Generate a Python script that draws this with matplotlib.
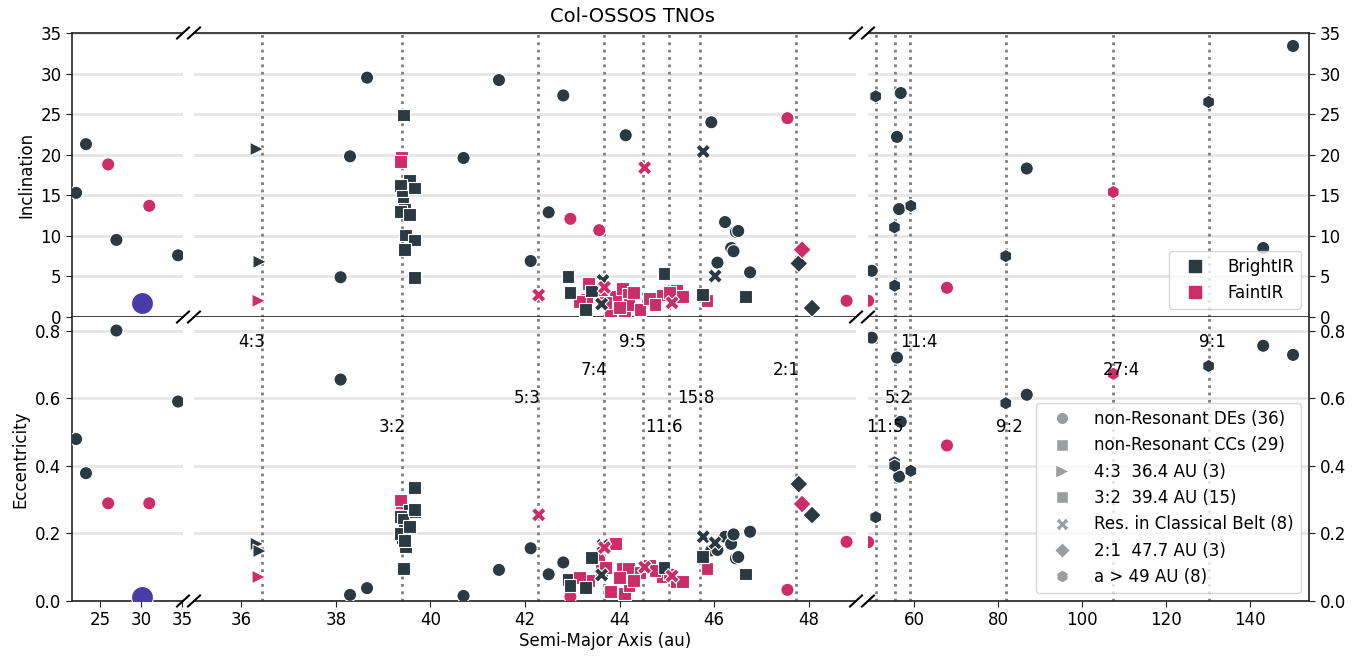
import matplotlib
matplotlib.use("Agg")
import matplotlib.pyplot as plt
from matplotlib.lines import Line2D

# ---------------- colours ----------------
BRIGHT = "#2b3a42"
FAINT = "#cc2d69"
NEPTUNE = "#4a3ca6"
LEG_GRAY = "#9b9da1"
IR_COL = {"B": BRIGHT, "F": FAINT}

# ---------------- data ----------------
# non-resonant DEs (circles)
de_a = [22.1, 23.3, 26.0, 27.0, 31.0, 34.5,
        38.1, 38.3, 38.66, 40.7, 41.45, 42.12, 42.5, 42.81, 42.96, 43.57,
        44.13, 45.94, 46.07, 46.23, 46.36, 46.41, 46.46, 46.51, 46.76, 47.55, 48.8,
        49.05, 49.9, 55.9, 56.4, 56.8, 67.8, 86.8, 143.1, 150.2]
de_i = [15.3, 21.3, 18.8, 9.5, 13.7, 7.6,
        4.9, 19.8, 29.5, 19.6, 29.2, 6.9, 12.9, 27.3, 12.1, 10.7,
        22.4, 24.0, 6.7, 11.7, 8.5, 8.1, 10.5, 10.6, 5.5, 24.5, 2.0,
        2.0, 5.7, 22.2, 13.3, 27.6, 3.6, 18.3, 8.5, 33.4]
de_e = [0.479, 0.378, 0.289, 0.800, 0.289, 0.590,
        0.655, 0.018, 0.038, 0.015, 0.092, 0.156, 0.079, 0.114, 0.013, 0.123,
        0.090, 0.150, 0.151, 0.190, 0.169, 0.197, 0.126, 0.130, 0.205, 0.033, 0.175,
        0.174, 0.779, 0.720, 0.368, 0.530, 0.460, 0.610, 0.755, 0.728]
de_ir = ["B", "B", "F", "B", "F", "B",
         "B", "B", "B", "B", "B", "B", "B", "B", "F", "F",
         "B", "B", "B", "B", "B", "B", "B", "B", "B", "F", "F",
         "F", "B", "B", "B", "B", "F", "B", "B", "B"]

# non-resonant CCs (squares)
cc_a = [42.91, 43.30, 43.34, 43.15, 43.62, 43.80, 43.92, 44.06, 44.10, 44.19,
        44.20, 44.43, 44.64, 44.92, 44.90, 45.20, 45.33, 45.85, 43.70, 44.30,
        44.75, 45.05, 43.28, 42.95, 44.94, 45.75, 46.67, 43.41, 44.00]
cc_i = [5.0, 2.2, 4.15, 1.9, 2.9, 0.65, 2.5, 3.5, 0.65, 2.8,
        1.5, 0.95, 2.3, 5.2, 2.7, 3.3, 2.5, 2.0, 1.8, 3.0,
        1.5, 3.0, 0.9, 3.0, 5.4, 2.8, 2.5, 3.2, 1.2]
cc_e = [0.064, 0.054, 0.060, 0.070, 0.090, 0.028, 0.171, 0.097, 0.023, 0.097,
        0.047, 0.084, 0.106, 0.090, 0.072, 0.057, 0.057, 0.095, 0.100, 0.060,
        0.090, 0.080, 0.040, 0.045, 0.100, 0.131, 0.080, 0.129, 0.070]
cc_ir = ["B", "F", "F", "F", "F", "F", "F", "F", "F", "F",
         "F", "F", "F", "F", "F", "F", "F", "F", "F", "F",
         "F", "F", "B", "B", "B", "B", "B", "B", "F"]

# 4:3 resonants (right triangles)
r43_a = [36.33, 36.39, 36.37]
r43_i = [20.7, 6.8, 2.0]
r43_e = [0.169, 0.148, 0.071]
r43_ir = ["B", "B", "F"]

# 3:2 resonants (squares)
r32_a = [39.38, 39.37, 39.43, 39.55, 39.37, 39.67, 39.40, 39.42, 39.45, 39.37,
         39.55, 39.47, 39.67, 39.45, 39.67]
r32_i = [19.65, 19.2, 24.9, 16.8, 16.2, 15.9, 14.9, 14.0, 13.3, 13.0,
         12.6, 10.1, 9.5, 8.3, 4.85]
r32_e = [0.290, 0.299, 0.096, 0.267, 0.250, 0.264, 0.187, 0.240, 0.210, 0.200,
         0.220, 0.161, 0.336, 0.180, 0.270]
r32_ir = ["F", "F", "B", "B", "B", "B", "B", "B", "B", "B",
          "B", "B", "B", "B", "B"]

# resonant objects in the classical belt (X)
rcb_a = [42.29, 43.65, 43.68, 43.62, 44.53, 45.11, 45.77, 46.02]
rcb_i = [2.7, 4.5, 3.65, 1.6, 18.4, 1.75, 20.4, 5.05]
rcb_e = [0.255, 0.165, 0.158, 0.077, 0.100, 0.074, 0.190, 0.172]
rcb_ir = ["F", "B", "F", "B", "F", "F", "B", "B"]

# 2:1 resonants (diamonds)
r21_a = [47.79, 47.86, 48.07]
r21_i = [6.6, 8.3, 1.1]
r21_e = [0.346, 0.287, 0.254]
r21_ir = ["B", "F", "B"]

# a > 49 AU (hexagons)
far_a = [50.83, 55.30, 55.35, 59.2, 81.8, 107.4, 130.1]
far_i = [27.2, 11.05, 3.86, 13.7, 7.5, 15.4, 26.5]
far_e = [0.248, 0.410, 0.400, 0.385, 0.585, 0.672, 0.695]
far_ir = ["B", "B", "B", "B", "B", "F", "B"]

# Neptune
nep_a, nep_i, nep_e = 30.07, 1.77, 0.013

# mean-motion resonances
res_names = ["4:3", "3:2", "5:3", "7:4", "9:5", "11:6", "15:8", "2:1",
             "11:5", "5:2", "11:4", "9:2", "27:4", "9:1"]
res_a = [36.43, 39.40, 42.27, 43.67, 44.49, 45.04, 45.71, 47.73,
         50.86, 55.39, 59.02, 81.96, 107.37, 130.10]
res_level = [0, 3, 2, 1, 0, 3, 2, 1, 3, 2, 0, 3, 1, 0]
level_e = [0.765, 0.682, 0.599, 0.516]

legend_labels = ["non-Resonant DEs (36)", "non-Resonant CCs (29)",
                 "4:3  36.4 AU (3)", "3:2  39.4 AU (15)",
                 "Res. in Classical Belt (8)", "2:1  47.7 AU (3)",
                 "a > 49 AU (8)"]

classes = [
    (de_a, de_i, de_e, de_ir, "o", 90),
    (cc_a, cc_i, cc_e, cc_ir, "s", 85),
    (r43_a, r43_i, r43_e, r43_ir, ">", 95),
    (r32_a, r32_i, r32_e, r32_ir, "s", 85),
    (rcb_a, rcb_i, rcb_e, rcb_ir, "X", 110),
    (r21_a, r21_i, r21_e, r21_ir, "D", 85),
    (far_a, far_i, far_e, far_ir, "h", 95),
]

# ---------------- layout ----------------
W, H = 1367, 656
plt.rcParams["font.family"] = ["DejaVu Sans"]
plt.rcParams["font.size"] = 12
fig = plt.figure(figsize=(W / 100, H / 100), dpi=100)


def rect(x0, x1, y0, y1):
    return [x0 / W, (H - y1) / H, (x1 - x0) / W, (y1 - y0) / H]


cols = [(72, 183), (194, 856), (868, 1309)]
rows = [(33, 317), (317, 601)]
xlims = [(21.6, 35.1), (35.0, 49.0), (49.0, 154.0)]
xticks = [[25, 30, 35], [36, 38, 40, 42, 44, 46, 48], [60, 80, 100, 120, 140]]
ylims = [(0, 35), (0, 0.84)]
yticks = [[0, 5, 10, 15, 20, 25, 30, 35], [0.0, 0.2, 0.4, 0.6, 0.8]]
label_off = [0.0, 0.5, 2.4]
SPINE = "#222222"

axes = [[None] * 3 for _ in range(2)]
for r, (y0, y1) in enumerate(rows):
    for c, (x0, x1) in enumerate(cols):
        lo, hi = xlims[c]
        ax = fig.add_axes(rect(x0, x1, y0, y1))
        axes[r][c] = ax
        ax.set_xlim(lo, hi)
        ax.set_ylim(*ylims[r])
        ax.set_yticks(yticks[r])
        ax.set_xticks(xticks[c])
        ax.set_axisbelow(True)
        ax.yaxis.grid(True, color="#e6e6e6", lw=2)
        ax.xaxis.grid(False)
        for s in ax.spines.values():
            s.set_color(SPINE)
            s.set_linewidth(1.2)
        ax.spines["left"].set_visible(c == 0)
        ax.spines["right"].set_visible(c == 2)
        ax.spines["top"].set_visible(r == 0)
        ax.tick_params(axis="y", left=(c == 0), labelleft=(c == 0),
                       right=(c == 2), labelright=(c == 2),
                       labelsize=12, color=SPINE, length=4)
        ax.tick_params(axis="x", bottom=(r == 1), labelbottom=(r == 1),
                       top=False, labelsize=12, color=SPINE, length=4)
        # resonance lines
        for a in res_a:
            if lo < a < hi:
                ax.axvline(a, color="#7f7f7f", ls=":", lw=2, zorder=1)
        # objects (only those belonging to this panel)
        for (xa, xi, xe, xir, mk, sz) in classes:
            yy = xi if r == 0 else xe
            sel = [k for k, a in enumerate(xa) if lo <= a <= hi]
            if not sel:
                continue
            ax.scatter([xa[k] for k in sel], [yy[k] for k in sel],
                       c=[IR_COL[xir[k]] for k in sel], marker=mk, s=sz,
                       edgecolors="white", linewidths=0.8, zorder=3)
        if c == 0:
            ax.scatter([nep_a], [nep_i if r == 0 else nep_e], s=250,
                       c=NEPTUNE, edgecolors="white", linewidths=0.8, zorder=3)

# resonance labels
for name, a, lev in zip(res_names, res_a, res_level):
    c = 1 if a < 49 else 2
    axes[1][c].text(a - label_off[c], level_e[lev], name, ha="left",
                    va="center", fontsize=12, zorder=4)

axes[0][0].set_ylabel("Inclination", fontsize=12)
axes[1][0].set_ylabel("Eccentricity", fontsize=12)

fig.text(605.5 / W, 1 - 641 / H, "Semi-Major Axis (au)", ha="center",
         va="center", fontsize=12)
fig.text(632 / W, 1 - 17 / H, "Col-OSSOS TNOs", ha="center", va="center",
         fontsize=14)

# break marks
for yb in (33, 317, 601):
    for xb in (183, 194, 856, 868):
        fig.add_artist(Line2D([(xb - 6) / W, (xb + 6) / W],
                              [1 - (yb + 5.5) / H, 1 - (yb - 5.5) / H],
                              transform=fig.transFigure, color="black",
                              lw=1.5, clip_on=False))

# legends
h1 = [Line2D([], [], ls="", marker="s", markersize=9, color=BRIGHT),
      Line2D([], [], ls="", marker="s", markersize=9, color=FAINT)]
leg1 = axes[0][2].legend(h1, ["BrightIR", "FaintIR"], loc="lower right",
                         fontsize=12, framealpha=0.8, edgecolor="#cccccc",
                         handlelength=2.3)
leg1.set_zorder(10)

leg_markers = ["o", "s", ">", "s", "X", "D", "h"]
leg_msize = [9, 9, 9.5, 9, 10, 8, 9.5]
h2 = [Line2D([], [], ls="", marker=m, markersize=ms,
             color=LEG_GRAY, markeredgecolor="white")
      for m, ms in zip(leg_markers, leg_msize)]
leg2 = axes[1][2].legend(h2, legend_labels, loc="lower right", fontsize=12,
                         framealpha=0.8, edgecolor="#cccccc", handlelength=2.3)
leg2.set_zorder(10)

fig.savefig("out.png", dpi=100)
